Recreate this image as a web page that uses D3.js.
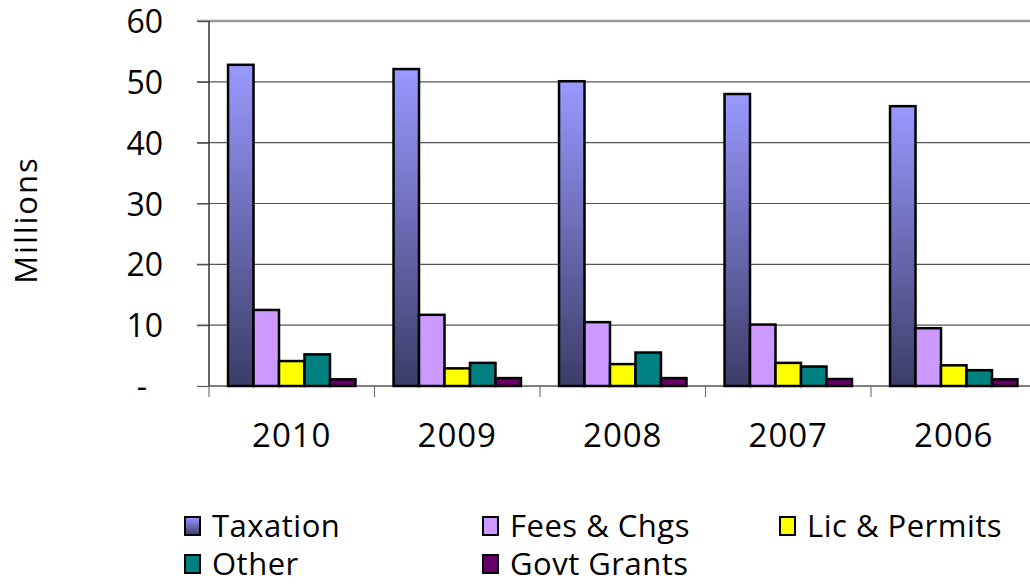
<!DOCTYPE html>
<html lang="en">
<head>
    <meta charset="UTF-8">
    <title>Revenue by source</title>
    <script src="https://cdn.jsdelivr.net/npm/d3@7"></script>
    <style>
        body { margin: 0; background: #fff; }
        text { font-family: "Open Sans", sans-serif; fill: #000; }
    </style>
</head>
<body>
<svg width="1030" height="584"></svg>

<script>

    var years = ["2010", "2009", "2008", "2007", "2006"];
    var series = ["Taxation", "Fees & Chgs", "Lic & Permits", "Other", "Govt Grants"];
    var taxation = [52.8, 52.1, 50.1, 48.0, 46.0];
    var feesChgs = [12.5, 11.7, 10.5, 10.1, 9.5];
    var licPermits = [4.1, 2.9, 3.6, 3.8, 3.4];
    var other = [5.2, 3.8, 5.5, 3.2, 2.6];
    var govtGrants = [1.1, 1.3, 1.3, 1.15, 1.1];
    var yTicks = [0, 10, 20, 30, 40, 50, 60];
    var colors = ["url(#taxGrad)", "#cc99ff", "#ffff00", "#008080", "#660066"];

    var values = [taxation, feesChgs, licPermits, other, govtGrants];

    var svg = d3.select("svg");

    // plot area (right edge runs past the window, like the original)
    var plotLeft = 209, plotTop = 21, plotBottom = 386, plotRight = 1036.5;

    // gradient for the taxation bars
    var grad = svg.append("defs").append("linearGradient")
        .attr("id", "taxGrad")
        .attr("x1", 0).attr("y1", 0).attr("x2", 0).attr("y2", 1);
    grad.append("stop").attr("offset", "0%").attr("stop-color", "#9999ff");
    grad.append("stop").attr("offset", "100%").attr("stop-color", "#3c3c68");

    var x0 = d3.scaleBand()
        .domain(years)
        .range([plotLeft, plotRight])
        .paddingInner(0.23)
        .paddingOuter(0.115);

    var x1 = d3.scaleBand()
        .domain(series)
        .range([0, x0.bandwidth()]);

    var y = d3.scaleLinear()
        .domain([0, 60])
        .range([plotBottom, plotTop]);

    // gridlines
    svg.append("g")
        .selectAll("line")
        .data(yTicks.filter(function (d) { return d > 0; }))
        .enter().append("line")
        .attr("x1", plotLeft - 12)
        .attr("x2", 1030)
        .attr("y1", function (d) { return y(d); })
        .attr("y2", function (d) { return y(d); })
        .style("stroke", function (d) { return d == 60 ? "#999" : "#555"; })
        .style("stroke-width", function (d) { return d == 60 ? 2.5 : 1.2; });

    // y axis
    var yAxis = svg.append("g")
        .attr("transform", "translate(" + plotLeft + ",0)")
        .call(d3.axisLeft(y)
            .tickValues(yTicks)
            .tickSize(12)
            .tickPadding(34)
            .tickFormat(function (d) { return d == 0 ? "-" : d; }));
    yAxis.select(".domain").remove();
    yAxis.selectAll(".tick line").style("stroke", "#555").style("stroke-width", 1.2);
    yAxis.selectAll("text")
        .style("font-size", "32px")
        .style("font-family", "Open Sans, sans-serif")
        .attr("dy", "0.36em")
        .attr("dx", function (d) { return d == 0 ? -16 : 0; });

    svg.append("line")
        .attr("x1", plotLeft).attr("x2", plotLeft)
        .attr("y1", plotTop).attr("y2", plotBottom)
        .style("stroke", "#333").style("stroke-width", 1.5);

    // x axis
    var xAxis = svg.append("g")
        .attr("transform", "translate(0," + plotBottom + ")")
        .call(d3.axisBottom(x0).tickSize(0).tickPadding(38));
    xAxis.select(".domain").remove();
    xAxis.selectAll("text")
        .style("font-size", "33px")
        .style("letter-spacing", "1px")
        .style("font-family", "Open Sans, sans-serif");

    svg.append("line")
        .attr("x1", plotLeft).attr("x2", 1030)
        .attr("y1", plotBottom).attr("y2", plotBottom)
        .style("stroke", "#555").style("stroke-width", 1.5);

    var step = x0.step();
    svg.append("g")
        .selectAll("line")
        .data(d3.range(years.length + 1))
        .enter().append("line")
        .attr("x1", function (i) { return plotLeft + i * step; })
        .attr("x2", function (i) { return plotLeft + i * step; })
        .attr("y1", plotBottom)
        .attr("y2", plotBottom + 11)
        .style("stroke", "#777").style("stroke-width", 1.2);

    // bars
    var groups = svg.append("g")
        .selectAll("g")
        .data(years)
        .enter().append("g")
        .attr("transform", function (d) { return "translate(" + x0(d) + ",0)"; });

    groups.selectAll("rect")
        .data(function (d, i) {
            return series.map(function (s, j) {
                return {key: s, value: values[j][i], color: colors[j]};
            });
        })
        .enter().append("rect")
        .attr("x", function (d) { return x1(d.key); })
        .attr("width", x1.bandwidth())
        .attr("y", function (d) { return y(d.value); })
        .attr("height", function (d) { return plotBottom - y(d.value); })
        .style("fill", function (d) { return d.color; })
        .style("stroke", "#000")
        .style("stroke-width", 2.5);

    // y title
    svg.append("text")
        .attr("transform", "translate(37,220) rotate(-90)")
        .attr("text-anchor", "middle")
        .style("font-size", "31px")
        .style("letter-spacing", "2px")
        .text("Millions");

    // legend
    var legendPos = [[185, 526], [483, 526], [780, 526], [185, 564], [483, 564]];
    var legend = svg.append("g").attr("class", "legend")
        .selectAll("g")
        .data(series)
        .enter().append("g")
        .attr("transform", function (d, i) {
            return "translate(" + legendPos[i][0] + "," + legendPos[i][1] + ")";
        });

    legend.append("rect")
        .attr("x", 0).attr("y", -9)
        .attr("width", 15).attr("height", 18)
        .style("fill", function (d, i) { return colors[i]; })
        .style("stroke", "#000")
        .style("stroke-width", 2);

    legend.append("text")
        .attr("x", 27)
        .attr("dy", "0.35em")
        .style("font-size", "31px")
        .style("letter-spacing", "0.5px")
        .text(function (d) { return d; });

</script>

</body>
</html>
